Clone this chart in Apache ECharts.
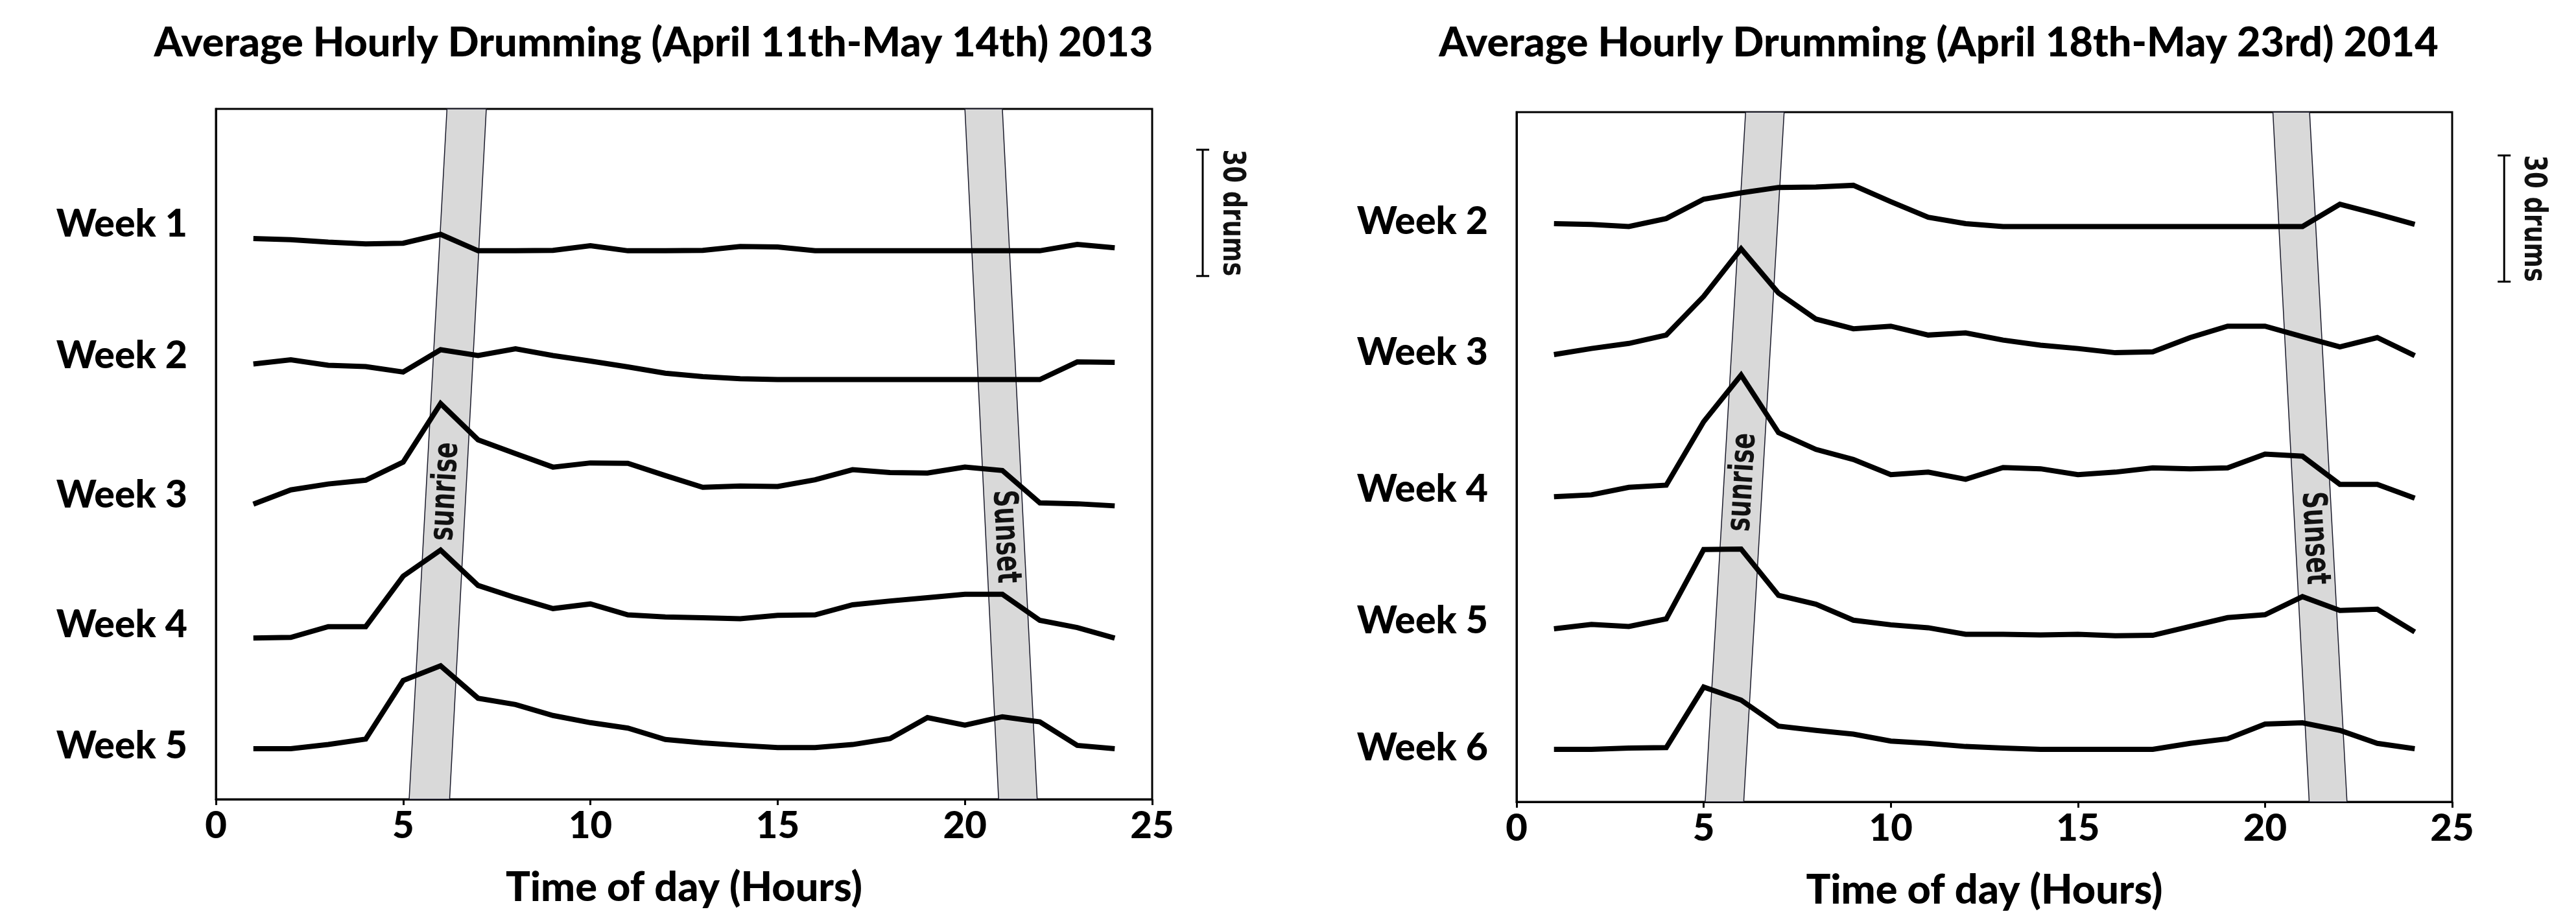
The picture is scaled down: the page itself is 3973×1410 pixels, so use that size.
<!DOCTYPE html>
<html><head><meta charset="utf-8">
<script src="https://cdn.jsdelivr.net/npm/echarts@6/dist/echarts.min.js"></script>
<style>html,body{margin:0;padding:0;background:#fff}#c{width:3973px;height:1410px}</style>
</head><body><div id="c"></div>
<script>
// ---------- data ----------
const hours = [1,2,3,4,5,6,7,8,9,10,11,12,13,14,15,16,17,18,19,20,21,22,23,24];
const xTicks = [0, 25, 5]; // min, max, interval

const title2013 = 'Average Hourly Drumming (April 11th-May 14th) 2013';
const title2014 = 'Average Hourly Drumming (April 18th-May 23rd) 2014';
const xName = 'Time of day (Hours)';

// 2013: drums per hour above each week's baseline
const weekNames2013 = ['Week 1','Week 2','Week 3','Week 4','Week 5'];
const weekOffsets2013 = [130.3, 99.7, 69.7, 38.3, 12.0];
const labelLevels2013 = [136.6, 105.3, 72.2, 41.4, 12.6];
const w1_2013 = [2.9,2.65,2.05,1.65,1.8,3.9,0,0,0.1,1.2,0,0,0.1,1.0,0.9,0,0,0,0,0,0,0,1.5,0.7];
const w2_2013 = [3.7,4.7,3.4,3.1,1.8,7.1,5.7,7.3,5.7,4.4,3.0,1.5,0.7,0.2,0,0,0,0,0,0,0,0,4.2,4.1];
const w3_2013 = [0.4,3.8,5.2,6.1,10.4,24.3,15.7,12.4,9.2,10.2,10.1,7.2,4.4,4.7,4.6,6.2,8.6,7.9,7.8,9.2,8.4,0.7,0.5,0];
const w4_2013 = [0,0.15,2.7,2.7,14.7,20.9,12.5,9.6,7.0,8.1,5.5,5.0,4.8,4.6,5.4,5.5,7.9,8.8,9.6,10.4,10.4,4.2,2.5,0];
const w5_2013 = [0,0,1.0,2.3,16.2,19.7,12.0,10.5,7.9,6.2,4.9,2.2,1.4,0.8,0.3,0.3,1.0,2.4,7.4,5.6,7.6,6.4,0.8,0];

// 2014
const weekNames2014 = ['Week 2','Week 3','Week 4','Week 5','Week 6'];
const weekOffsets2014 = [136.8, 106.1, 72.2, 39.5, 12.5];
const labelLevels2014 = [137.9, 106.8, 74.3, 43.0, 12.8];
const w2_2014 = [0.7,0.5,0,1.9,6.5,8.0,9.3,9.4,9.8,5.9,2.2,0.7,0,0,0,0,0,0,0,0,0,5.3,3.0,0.5];
const w3_2014 = [0.25,1.7,2.9,4.9,14.1,25.4,14.9,8.7,6.4,7.0,4.9,5.4,3.7,2.5,1.7,0.7,0.9,4.3,7.0,7.0,4.5,2.1,4.3,0];
const w4_2014 = [0.35,0.8,2.6,3.1,18.2,29.3,15.6,11.6,9.2,5.6,6.2,4.5,7.3,7.0,5.6,6.2,7.2,7.0,7.2,10.5,10.0,3.3,3.3,0];
const w5_2014 = [1.65,2.7,2.2,4.0,20.5,20.6,9.6,7.5,3.7,2.6,1.9,0.35,0.35,0.2,0.35,0,0.1,2.2,4.3,5.0,9.3,6.0,6.3,0.9];
const w6_2014 = [0,0,0.3,0.4,14.8,11.7,5.5,4.5,3.6,1.95,1.4,0.66,0.3,0,0,0,0,1.4,2.5,6.0,6.3,4.5,1.4,0.15];

// sunrise / sunset bands (hours at top and bottom of plot)
const sunrise2013Top = [6.17, 7.22], sunrise2013Bottom = [5.16, 6.24];
const sunset2013Top  = [20.0, 21.0], sunset2013Bottom  = [20.9, 21.93];
const sunrise2014Top = [6.12, 7.15], sunrise2014Bottom = [5.04, 6.07];
const sunset2014Top  = [20.21, 21.19], sunset2014Bottom = [21.18, 22.19];
const bandLabelLevels2013 = [73.1, 62.4];
const bandLabelLevels2014 = [76.0, 62.7];

// scale bar (drums)
const scaleDrums = 30;
const scaleBar2013 = [26.35, 154.3];
const scaleBar2014 = [26.39, 153.7];

const Y_MAX = 164;

// ---------- chart ----------
const FONT = 'Lato';
const FW = 900;
const chart = echarts.init(document.getElementById('c'), null, {renderer:'canvas'});

function lineSeries(gi, offset, vals) {
  return {
    type:'line', xAxisIndex:gi, yAxisIndex:gi, z:5, silent:true,
    symbol:'none', animation:false,
    lineStyle:{color:'#000', width:8, join:'miter', cap:'butt'},
    data: hours.map((h,i)=>[h, offset + vals[i]])
  };
}

function bandSeries(gi, top, bottom, label, level, readUp) {
  return {
    type:'custom', xAxisIndex:gi, yAxisIndex:gi, z:1, silent:true, animation:false,
    data:[[0,0]],
    renderItem(params, api){
      const tl = api.coord([top[0], Y_MAX]), tr = api.coord([top[1], Y_MAX]);
      const br = api.coord([bottom[1], 0]), bl = api.coord([bottom[0], 0]);
      const cxTop = (top[0]+top[1])/2, cxBot = (bottom[0]+bottom[1])/2;
      const cx = cxBot + (cxTop - cxBot) * (level / Y_MAX);
      const p = api.coord([cx, level]);
      const ct = api.coord([cxTop, Y_MAX]), cb = api.coord([cxBot, 0]);
      let dx, dy;
      if (readUp) { dx = ct[0]-cb[0]; dy = ct[1]-cb[1]; } else { dx = cb[0]-ct[0]; dy = cb[1]-ct[1]; }
      const rot = Math.atan2(-dy, dx);
      return {type:'group', children:[
        {type:'polygon', shape:{points:[tl,tr,br,bl]}, style:{fill:'#d9d9d9', stroke:'#1a1a2a', lineWidth:1.5}},
        {type:'text', x:p[0], y:p[1], rotation:rot, scaleX:0.71, scaleY:1,
          style:{text:label, font:'bold 52px "DejaVu Sans"', fill:'#111', align:'center', verticalAlign:'middle'}}
      ]};
    }
  };
}

function scaleSeries(gi, bar) {
  return {
    type:'custom', xAxisIndex:gi, yAxisIndex:gi, z:5, silent:true, clip:false, animation:false,
    data:[[0,0]],
    renderItem(params, api){
      const t = api.coord([bar[0], bar[1]]);
      const b = api.coord([bar[0], bar[1]-scaleDrums]);
      const st = {stroke:'#000', lineWidth:3};
      return {type:'group', children:[
        {type:'line', shape:{x1:t[0], y1:t[1], x2:b[0], y2:b[1]}, style:st},
        {type:'line', shape:{x1:t[0]-10, y1:t[1], x2:t[0]+10, y2:t[1]}, style:st},
        {type:'line', shape:{x1:b[0]-10, y1:b[1], x2:b[0]+10, y2:b[1]}, style:st},
        {type:'text', x:t[0]+44, y:(t[1]+b[1])/2, rotation:-Math.PI/2, scaleX:0.77, scaleY:1,
          style:{text:scaleDrums + ' drums', font:'bold 48px "DejaVu Sans"', fill:'#111', align:'center', verticalAlign:'middle'}}
      ]};
    }
  };
}

function xAxis(gi) {
  return {
    gridIndex:gi, type:'value', min:xTicks[0], max:xTicks[1], interval:xTicks[2],
    axisLine:{show:true, lineStyle:{color:'#000', width:3}},
    axisTick:{show:true, inside:false, length:9, lineStyle:{color:'#000', width:3}},
    splitLine:{show:false},
    axisLabel:{color:'#000', fontFamily:FONT, fontWeight:FW, fontSize:58, margin:12},
    name:xName, nameLocation:'middle', nameGap:105,
    nameTextStyle:{color:'#000', fontFamily:FONT, fontWeight:FW, fontSize:63}
  };
}
function yAxis(gi, levels, names) {
  return {
    gridIndex:gi, type:'value', min:0, max:Y_MAX,
    axisLine:{show:true, lineStyle:{color:'#000', width:3}},
    axisTick:{show:false}, splitLine:{show:false},
    axisLabel:{
      customValues: levels,
      formatter: (v)=>{ const i = levels.indexOf(v); return i>=0 ? names[i] : ''; },
      color:'#000', fontFamily:FONT, fontWeight:FW, fontSize:59, margin:44
    }
  };
}

const series = [
  bandSeries(0, sunrise2013Top, sunrise2013Bottom, 'sunrise', bandLabelLevels2013[0], true),
  bandSeries(0, sunset2013Top, sunset2013Bottom, 'Sunset', bandLabelLevels2013[1], false),
  bandSeries(1, sunrise2014Top, sunrise2014Bottom, 'sunrise', bandLabelLevels2014[0], true),
  bandSeries(1, sunset2014Top, sunset2014Bottom, 'Sunset', bandLabelLevels2014[1], false),
  lineSeries(0, weekOffsets2013[0], w1_2013),
  lineSeries(0, weekOffsets2013[1], w2_2013),
  lineSeries(0, weekOffsets2013[2], w3_2013),
  lineSeries(0, weekOffsets2013[3], w4_2013),
  lineSeries(0, weekOffsets2013[4], w5_2013),
  lineSeries(1, weekOffsets2014[0], w2_2014),
  lineSeries(1, weekOffsets2014[1], w3_2014),
  lineSeries(1, weekOffsets2014[2], w4_2014),
  lineSeries(1, weekOffsets2014[3], w5_2014),
  lineSeries(1, weekOffsets2014[4], w6_2014),
  scaleSeries(0, scaleBar2013),
  scaleSeries(1, scaleBar2014)
];

chart.setOption({
  animation:false,
  backgroundColor:'#fff',
  grid:[
    {left:333, top:168, width:1444, height:1065, show:true, borderColor:'#000', borderWidth:3, backgroundColor:'transparent'},
    {left:2339, top:173, width:1443, height:1064, show:true, borderColor:'#000', borderWidth:3, backgroundColor:'transparent'}
  ],
  xAxis:[xAxis(0), xAxis(1)],
  yAxis:[yAxis(0, labelLevels2013, weekNames2013), yAxis(1, labelLevels2014, weekNames2014)],
  graphic:[
    {type:'text', x:1008, y:67, style:{text:title2013, font:'900 63px Lato', fill:'#000', align:'center', verticalAlign:'middle'}},
    {type:'text', x:2990, y:67, style:{text:title2014, font:'900 63px Lato', fill:'#000', align:'center', verticalAlign:'middle'}}
  ],
  series: series
});
</script>
</body></html>
